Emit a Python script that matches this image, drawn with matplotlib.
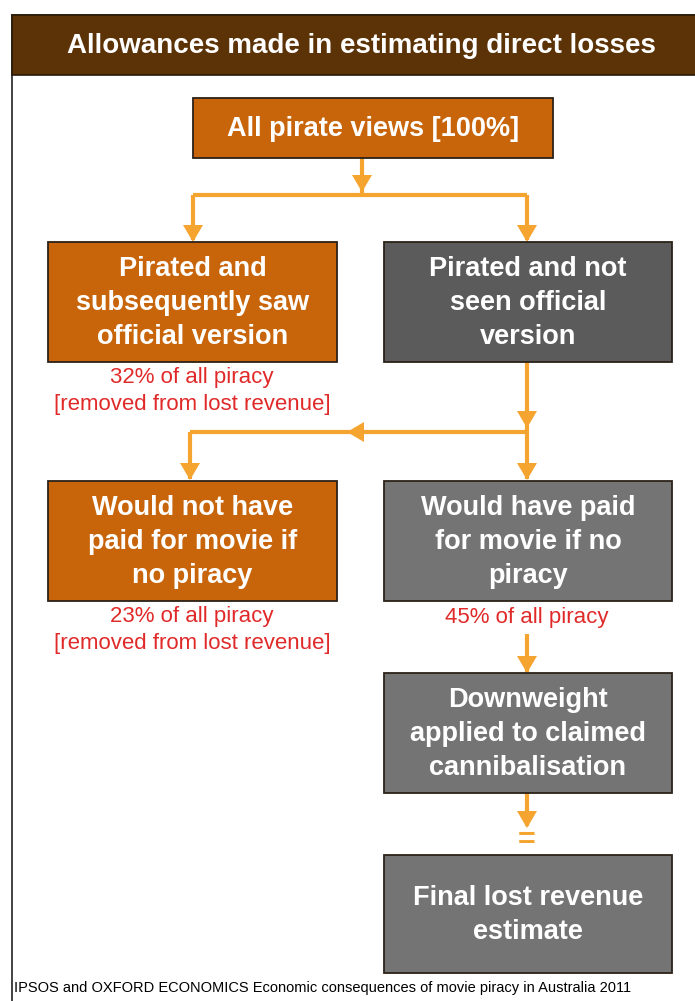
import matplotlib
matplotlib.use("Agg")
import matplotlib.pyplot as plt
from matplotlib.patches import Rectangle, Polygon

plt.rcParams['font.family'] = ['Liberation Sans', 'DejaVu Sans']

# ---- content ----
title = "Allowances made in estimating direct losses"
box_labels = [
    "All pirate views [100%]",
    "Pirated and\nsubsequently saw\nofficial version",
    "Pirated and not\nseen official\nversion",
    "Would not have\npaid for movie if\nno piracy",
    "Would have paid\nfor movie if no\npiracy",
    "Downweight\napplied to claimed\ncannibalisation",
    "Final lost revenue\nestimate",
]
box_kinds = ["orange", "orange", "dark", "orange", "gray", "gray", "gray"]
share_labels = ["32% of all piracy\n[removed from lost revenue]",
                "23% of all piracy\n[removed from lost revenue]",
                "45% of all piracy"]
source = "IPSOS and OXFORD ECONOMICS Economic consequences of movie piracy in Australia 2011"

# ---- layout (pixels) ----
W, H = 695, 1001
boxes = [  # x0, y0, x1, y1
    (193, 98, 553, 158),
    (48, 242, 337, 362),
    (384, 242, 672, 362),
    (48, 481, 337, 601),
    (384, 481, 672, 601),
    (384, 673, 672, 793),
    (384, 855, 672, 973),
]
colors = {"orange": "#C8650A", "dark": "#5B5B5B", "gray": "#747474"}
arrow_c = "#F5A430"
red = "#E02A2A"

fig = plt.figure(figsize=(W / 100, H / 100), dpi=100)
ax = fig.add_axes([0, 0, 1, 1])
ax.set_xlim(0, W)
ax.set_ylim(H, 0)
ax.axis("off")

# outer frame and header
ax.add_patch(Rectangle((12, 15), W - 12 + 5, H, facecolor="white", edgecolor="#222222", lw=1.2))
ax.add_patch(Rectangle((12, 15), W - 12 + 5, 60, facecolor="#5C3307", edgecolor="#2a1a08", lw=1.2))
ax.text(361, 46, title, color="white", fontsize=20, fontweight="bold", ha="center", va="center")

for (x0, y0, x1, y1), lab, kind in zip(boxes, box_labels, box_kinds):
    ax.add_patch(Rectangle((x0, y0), x1 - x0, y1 - y0, facecolor=colors[kind],
                           edgecolor="#2b2118", lw=1.3, zorder=3))
    ax.text((x0 + x1) / 2, (y0 + y1) / 2 + 1, lab, color="white", fontsize=19.5,
            fontweight="bold", ha="center", va="center", linespacing=1.38, zorder=4)

# share annotations
share_pos = [(192, 391), (192, 630), (527, 618)]
for (x, y), lab in zip(share_pos, share_labels):
    ax.text(x, y, lab, color=red, fontsize=16, ha="center", va="center", linespacing=1.32)


def line(xs, ys):
    ax.plot(xs, ys, color=arrow_c, lw=3, solid_capstyle="butt", zorder=2)


def head(x, y, d="down", L=17, Wd=20):
    if d == "down":
        pts = [(x - Wd / 2, y - L), (x + Wd / 2, y - L), (x, y)]
    else:  # left
        pts = [(x + L, y - Wd / 2), (x + L, y + Wd / 2), (x, y)]
    ax.add_patch(Polygon(pts, closed=True, facecolor=arrow_c, edgecolor="none", zorder=2))


# top box -> branch
line([362, 362], [158, 195])
head(362, 192)
line([193, 527], [195, 195])
line([193, 193], [195, 240])
head(193, 242)
line([527, 527], [195, 240])
head(527, 242)

# dark box -> second branch
line([527, 527], [362, 479])
head(527, 428)
line([190, 527], [432, 432])
head(347, 432, "left")
line([190, 190], [432, 479])
head(190, 480)
head(527, 480)

# 45% -> downweight
line([527, 527], [634, 672])
head(527, 673)

# downweight -> equals
line([527, 527], [793, 826])
head(527, 828)
ax.text(527, 841, "=", color=arrow_c, fontsize=22, fontweight="bold", ha="center", va="center")

ax.text(14, 988, source, color="black", fontsize=10.5, ha="left", va="center")

fig.savefig("out.png", dpi=100)
